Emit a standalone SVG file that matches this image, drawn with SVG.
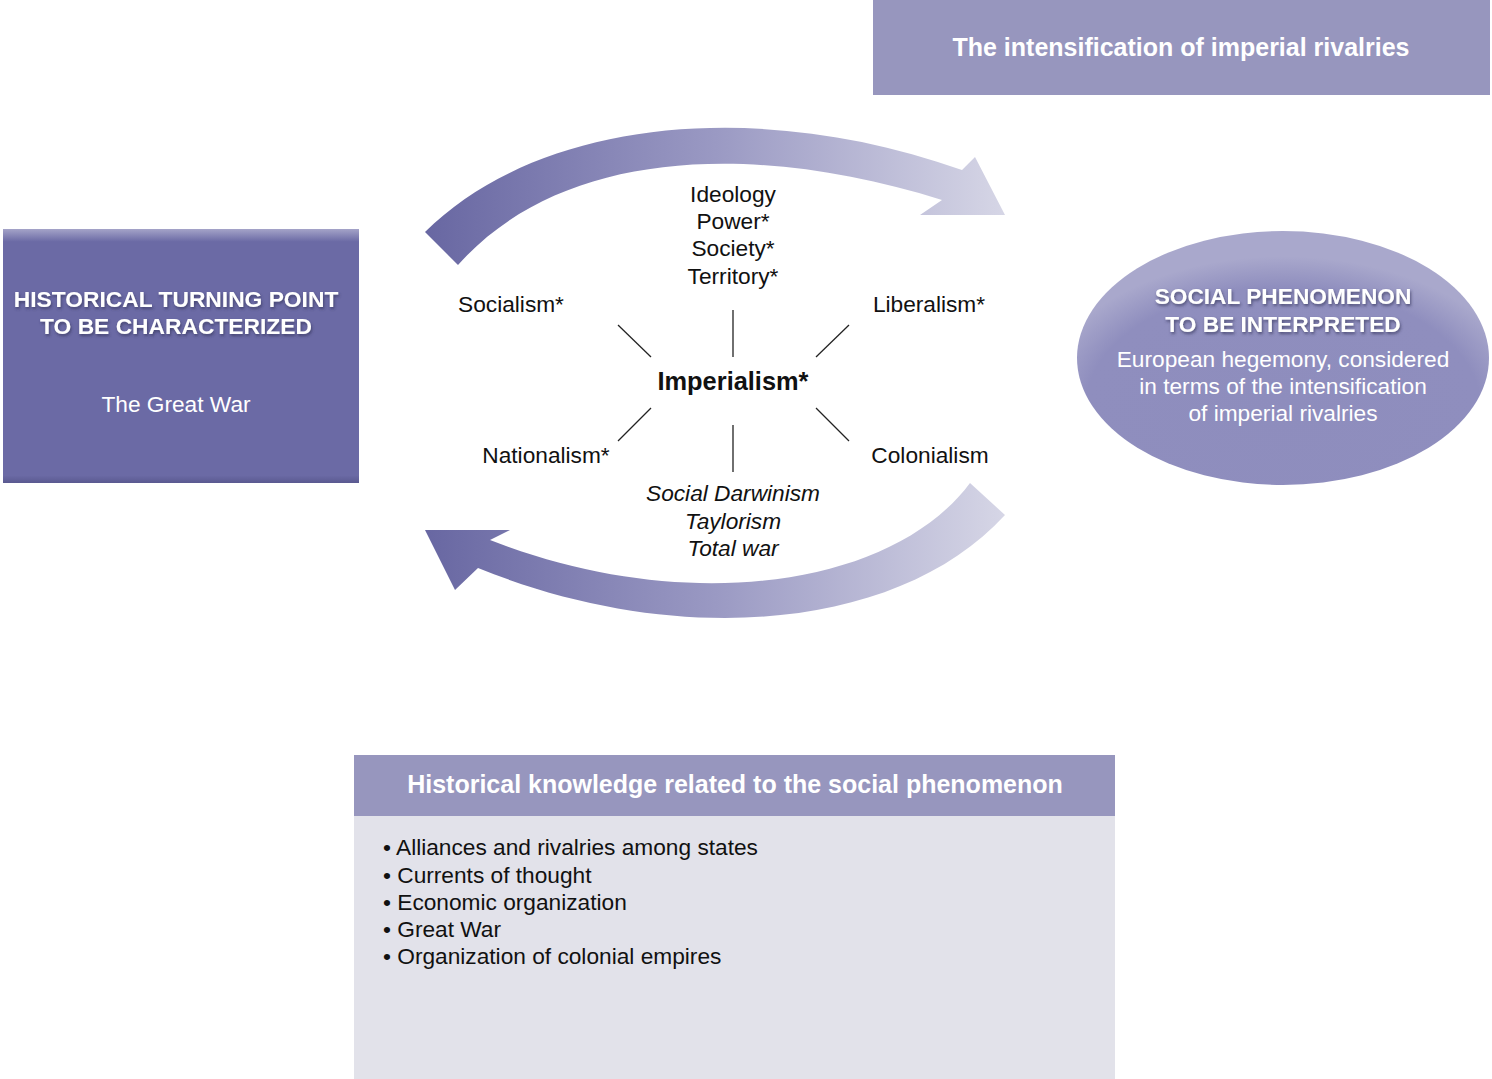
<svg xmlns="http://www.w3.org/2000/svg" width="1492" height="1079" viewBox="0 0 1492 1079">
<defs>
<linearGradient id="arrowGrad" x1="0" y1="0" x2="1" y2="0">
<stop offset="0" stop-color="#6867a2"/>
<stop offset="0.5" stop-color="#9a99c3"/>
<stop offset="1" stop-color="#d6d6e6"/>
</linearGradient>
<linearGradient id="boxBevel" x1="0" y1="0" x2="0" y2="1">
<stop offset="0" stop-color="#a4a3c8"/>
<stop offset="0.05" stop-color="#6b6aa5"/>
<stop offset="0.97" stop-color="#6b6aa5"/>
<stop offset="1" stop-color="#5a5990"/>
</linearGradient>
<radialGradient id="ellGrad" cx="0.5" cy="0.7" r="0.6">
<stop offset="0" stop-color="#8e8dbd"/>
<stop offset="0.8" stop-color="#8f8ebe"/>
<stop offset="1" stop-color="#a9a8cc"/>
</radialGradient>
<filter id="shadow" x="-10%" y="-30%" width="120%" height="160%">
<feDropShadow dx="1" dy="2" stdDeviation="1.5" flood-color="#30305a" flood-opacity="0.7"/>
</filter>
</defs>
<style>
.t{font-family:"Liberation Sans",Arial,sans-serif;font-size:22.7px;fill:#111;text-anchor:middle}
.b{font-weight:bold}
.big{font-size:25.4px}
.i{font-style:italic}
.w{fill:#fff}
.hd{font-family:"Liberation Sans",Arial,sans-serif;font-weight:bold;fill:#fff;text-anchor:middle}
.li{font-family:"Liberation Sans",Arial,sans-serif;font-size:22.7px;fill:#111}
.ln{stroke:#222;stroke-width:1.3;fill:none}
</style>
<rect width="1492" height="1079" fill="#fff"/>

<g id="intensification">
<rect x="873" y="0" width="617" height="95" fill="#9796be"/>
<text class="hd" x="1181" y="56" font-size="25">The intensification of imperial rivalries</text>
</g>

<g id="turning-point">
<rect x="3" y="229" width="356" height="254" fill="url(#boxBevel)"/>
<text class="hd" x="176" y="307" font-size="22.8" filter="url(#shadow)">HISTORICAL TURNING POINT</text>
<text class="hd" x="176" y="334" font-size="22.8" filter="url(#shadow)">TO BE CHARACTERIZED</text>
<text class="t w" x="176" y="412">The Great War</text>
</g>

<g id="social-phenomenon">
<ellipse cx="1283" cy="358" rx="206" ry="127" fill="url(#ellGrad)"/>
<text class="hd" x="1283" y="304" font-size="22.7" filter="url(#shadow)">SOCIAL PHENOMENON</text>
<text class="hd" x="1283" y="332" font-size="22.7" filter="url(#shadow)">TO BE INTERPRETED</text>
<text class="t w" x="1283" y="367">European hegemony, considered</text>
<text class="t w" x="1283" y="394">in terms of the intensification</text>
<text class="t w" x="1283" y="421">of imperial rivalries</text>
</g>

<g id="knowledge">
<rect x="354" y="755" width="761" height="61" fill="#9796be"/>
<rect x="354" y="816" width="761" height="263" fill="#e2e2ea"/>
<text class="hd" x="735" y="793" font-size="25">Historical knowledge related to the social phenomenon</text>
<text class="li" x="383" y="855">• Alliances and rivalries among states</text>
<text class="li" x="383" y="883">• Currents of thought</text>
<text class="li" x="383" y="910">• Economic organization</text>
<text class="li" x="383" y="937">• Great War</text>
<text class="li" x="383" y="964">• Organization of colonial empires</text>
</g>

<g id="connectors">
<path d="M425,232 C540,118 760,98 962,170 L975,157 L1005,215 L920,215 L942,200 C750,140 560,150 458,265 Z" fill="url(#arrowGrad)"/>
<path d="M1005,515 C900,630 680,650 478,568 L455,590 L425,530 L510,530 L490,540 C680,615 890,590 970,483 Z" fill="url(#arrowGrad)"/>
<line class="ln" x1="733" y1="310" x2="733" y2="357"/>
<line class="ln" x1="733" y1="425" x2="733" y2="472"/>
<line class="ln" x1="618" y1="325" x2="651" y2="357"/>
<line class="ln" x1="849" y1="325" x2="816" y2="357"/>
<line class="ln" x1="618" y1="441" x2="651" y2="408"/>
<line class="ln" x1="849" y1="441" x2="816" y2="408"/>
</g>

<g id="imperialism">
<text class="t b big" x="733" y="390">Imperialism*</text>
</g>
<g id="top-concepts">
<text class="t" x="733" y="202">Ideology</text>
<text class="t" x="733" y="229">Power*</text>
<text class="t" x="733" y="256">Society*</text>
<text class="t" x="733" y="284">Territory*</text>
</g>
<g id="socialism"><text class="t" x="511" y="312">Socialism*</text></g>
<g id="liberalism"><text class="t" x="929" y="312">Liberalism*</text></g>
<g id="nationalism"><text class="t" x="546" y="463">Nationalism*</text></g>
<g id="colonialism"><text class="t" x="930" y="463">Colonialism</text></g>
<g id="bottom-concepts">
<text class="t i" x="733" y="501">Social Darwinism</text>
<text class="t i" x="733" y="529">Taylorism</text>
<text class="t i" x="733" y="556">Total war</text>
</g>
</svg>
